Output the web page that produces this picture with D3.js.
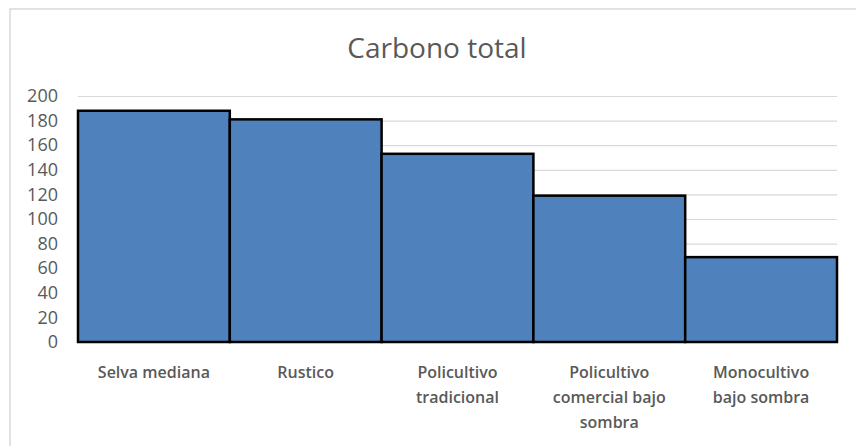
<!DOCTYPE html>
<html>
<head>
<meta charset="utf-8">
<script src="https://cdn.jsdelivr.net/npm/d3@7"></script>
<style>
  html, body { margin: 0; padding: 0; background: #fff; }
  svg { display: block; }
  .tick text { font-family: 'Open Sans', Lato, sans-serif; }
</style>
</head>
<body>
<div id="chart"></div>
<script>
const categories = [
  ['Selva mediana'],
  ['Rustico'],
  ['Policultivo', 'tradicional'],
  ['Policultivo', 'comercial bajo', 'sombra'],
  ['Monocultivo', 'bajo sombra'],
]
const carbono = [188, 181, 153, 119, 69]
const yTicks = [0, 20, 40, 60, 80, 100, 120, 140, 160, 180, 200]

const BAR = '#4f81bd'
const GRID = '#d9d9d9'
const TEXT = '#595959'
const W = 856
const H = 446
const margin = { top: 96, right: 19, bottom: 104, left: 78 }
const innerW = W - margin.left - margin.right
const innerH = H - margin.top - margin.bottom

const svg = d3.select('#chart').append('svg')
  .attr('width', W)
  .attr('height', H)

// chart frame (only left and top edges fall inside the picture)
svg.append('rect')
  .attr('x', 10).attr('y', 9)
  .attr('width', W + 20).attr('height', H + 20)
  .attr('fill', 'none')
  .attr('stroke', '#d9d9d9')
  .attr('stroke-width', 1.5)

svg.append('text')
  .attr('x', 437)
  .attr('y', 58)
  .attr('text-anchor', 'middle')
  .attr('font-family', "'Open Sans', sans-serif")
  .attr('font-size', 28)
  .attr('fill', TEXT)
  .text('Carbono total')

const g = svg.append('g').attr('transform', `translate(${margin.left},${margin.top})`)

const x = d3.scaleBand()
  .domain(d3.range(categories.length))
  .range([0, innerW])
  .padding(0)

const y = d3.scaleLinear().domain([0, 200]).range([innerH, 0])

g.append('g')
  .call(d3.axisLeft(y).tickValues(yTicks).tickSize(-innerW).tickFormat(''))
  .call((a) => a.select('.domain').remove())
  .call((a) => a.selectAll('line').attr('stroke', GRID).attr('stroke-width', 1.2))

g.append('g')
  .call(d3.axisLeft(y).tickValues(yTicks).tickSize(0).tickPadding(20))
  .call((a) => a.select('.domain').remove())
  .call((a) => a.selectAll('text').attr('fill', TEXT).attr('font-size', 18))

g.selectAll('rect.bar')
  .data(carbono)
  .join('rect')
  .attr('class', 'bar')
  .attr('x', (d, i) => x(i))
  .attr('y', (d) => y(d))
  .attr('width', x.bandwidth())
  .attr('height', (d) => innerH - y(d))
  .attr('fill', BAR)
  .attr('stroke', '#000')
  .attr('stroke-width', 2.5)

const labels = g.append('g')
  .attr('font-family', "'Open Sans', sans-serif")
  .attr('font-size', 16)
  .attr('font-weight', 600)
  .attr('fill', TEXT)
  .attr('text-anchor', 'middle')

categories.forEach((lines, i) => {
  const t = labels.append('text')
    .attr('x', x(i) + x.bandwidth() / 2)
    .attr('y', innerH + 36)
  lines.forEach((line, j) => {
    t.append('tspan')
      .attr('x', x(i) + x.bandwidth() / 2)
      .attr('dy', j === 0 ? 0 : 25)
      .text(line)
  })
})
</script>
</body>
</html>
